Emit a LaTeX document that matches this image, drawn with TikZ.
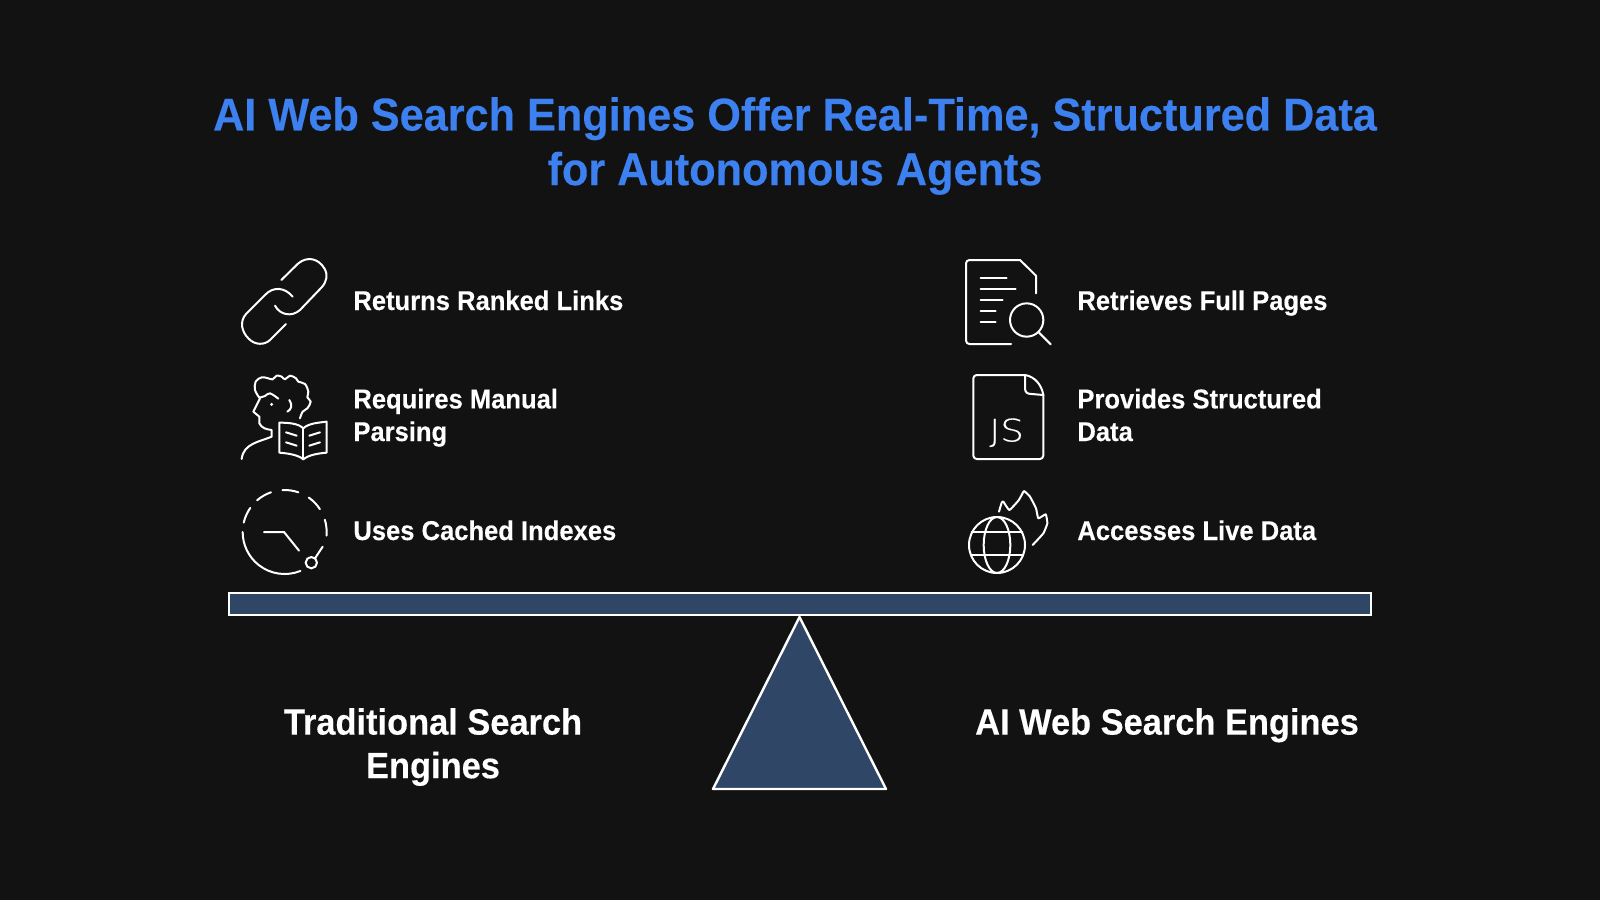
\documentclass[tikz,border=0pt]{standalone}
\usepackage{fontspec}
\setmainfont{Liberation Sans}[FakeStretch=0.94, BoldFeatures={FakeBold=0.25}]
\newfontfamily\jsfont{DejaVu Sans ExtraLight}[FakeBold=0.4, FakeStretch=1.2]
\usepackage{tikz}

\definecolor{bgdark}{HTML}{121212}
\definecolor{titleblue}{HTML}{3D80F0}
\definecolor{beamblue}{HTML}{2F4666}

\tikzset{
	icon/.style={draw=white, line width=1pt, line cap=round, line join=round},
	titletext/.style={text=titleblue, font=\fontsize{23}{27.3}\selectfont\bfseries, align=center},
	itemtext/.style={text=white, anchor=base west, inner sep=0pt, font=\fontsize{13.6}{16.3}\selectfont\bfseries, align=left},
	sidetext/.style={text=white, font=\fontsize{18.3}{21.8}\selectfont\bfseries, align=center}
}

\begin{document}
\begin{tikzpicture}[x=0.5pt, y=-0.5pt]
	\fill[bgdark] (0,0) rectangle (1600,900);
	\useasboundingbox (0,0) rectangle (1600,900);

	\node[titletext] (title) at (795,146) {AI Web Search Engines Offer Real-Time, Structured Data\\for Autonomous Agents};

	\node[itemtext] (links) at (353,310) {Returns Ranked Links};
	\node[itemtext] (parsing) at (353,441) {Requires Manual\\Parsing};
	\node[itemtext] (cached) at (353,540) {Uses Cached Indexes};
	\node[itemtext] (pages) at (1077,310) {Retrieves Full Pages};
	\node[itemtext] (structured) at (1077,441) {Provides Structured\\Data};
	\node[itemtext] (live) at (1077,540) {Accesses Live Data};

	\node[sidetext] (traditional) at (433,747) {Traditional Search\\Engines};
	\node[sidetext, anchor=north] (engines) at (1167,701) {AI Web Search Engines};

	\node[draw=white, fill=beamblue, line width=1pt, inner sep=0pt, minimum width=571pt, minimum height=11pt] (beam) at (799.5,603.5) {};
	\draw[draw=white, fill=beamblue, line width=1.2pt, line join=round] (799.5,617) -- (886,789) -- (713,789) -- cycle;

	% link
	\begin{scope}[shift={(220,240)}, scale=1/3, icon]
		\draw (184,120) -- (235,70) .. controls (262,48) and (295,55) .. (313,85) .. controls (325,105) and (320,125) .. (305,142) -- (240,210) .. controls (215,232) and (180,225) .. (165,197);
		\draw (218,170) .. controls (195,142) and (160,138) .. (135,165) -- (78,222) .. controls (58,245) and (65,275) .. (85,295) .. controls (105,317) and (135,315) .. (150,300) -- (198,252);
	\end{scope}

	% reader
	\begin{scope}[shift={(220,360)}, scale=1/3, icon]
		\draw plot[smooth, tension=0.6] coordinates {(118,113) (105,90) (107,65) (125,52) (145,55) (158,58) (170,47) (185,50) (195,58) (210,47) (228,55) (235,65) (255,72) (265,95) (262,112) (272,125) (262,145) (248,155) (240,175)};
		\draw plot[smooth, tension=0.6] coordinates {(118,113) (135,108) (150,100) (175,116)};
		\draw (120,115) -- (100,155) -- (118,170) -- (118,190) .. controls (125,205) and (140,208) .. (155,210) -- (155,230) .. controls (120,245) and (70,250) .. (65,297);
		\draw (208,120) .. controls (218,135) and (215,148) .. (202,155);
		\fill[white] (155,133) circle (5);
		\draw (178,188) .. controls (205,188) and (235,190) .. (250,205) .. controls (265,190) and (295,188) .. (320,185) -- (320,278) .. controls (295,280) and (265,285) .. (250,298) .. controls (235,285) and (205,280) .. (178,278) -- cycle;
		\draw (250,205) -- (250,298);
		\foreach \ypos in {217,247} {
			\draw (198,\ypos) -- (230,\ypos+10);
			\draw (300,\ypos) -- (268,\ypos+10);
		}
	\end{scope}

	% clock
	\begin{scope}[shift={(220,480)}, scale=1/3, icon]
		\foreach \sa/\ea in {68/180,193/215,229/251,267/289,305/327,343/365} {
			\draw ([shift={(194,156)}] \sa:126) arc[start angle=\sa, end angle=\ea, radius=126];
		}
		\draw (132,156) -- (192,156) -- (237,212);
		\draw (274,248) circle (17);
		\draw (308,200) -- (285,235);
	\end{scope}

	% document
	\begin{scope}[shift={(950,250)}, scale=1/3, icon]
		\draw[rounded corners=1.7pt] (183,282) -- (48,282) -- (48,30) -- (210,30);
		\draw (210,30) -- (258,77) -- (258,130);
		\foreach \ypos/\xend in {84/170,116/197,150/158,183/137,215/137} {
			\draw (92,\ypos) -- (\xend,\ypos);
		}
		\draw (230,210) circle (50);
		\draw (267,248) -- (302,283);
	\end{scope}

	% js file
	\begin{scope}[shift={(950,365)}, scale=1/3, icon]
		\draw[rounded corners=1.7pt] (225,30) -- (70,30) -- (70,282) -- (280,282) -- (280,90);
		\draw (225,30) .. controls (255,35) and (275,60) .. (280,90);
		\draw (225,30) -- (225,70) .. controls (225,82) and (232,87) .. (245,87) -- (280,90);
		\node[text=white, draw=none, font=\fontsize{15.5}{15.5}\selectfont\jsfont] (js) at (170,203) {JS};
	\end{scope}

	% globe
	\begin{scope}[shift={(950,480)}, scale=1/3, icon]
		\draw (141,195) circle (84);
		\draw (141,195) ellipse (40 and 84);
		\draw (65,157) -- (217,157);
		\draw (65,225) -- (217,225);
		\draw plot[smooth, tension=0.25] coordinates {(147,95) (155,68) (160,65) (178,90) (205,62) (215,45) (222,33) (240,50) (258,85) (265,115) (287,103) (292,130) (280,160) (248,195)};
	\end{scope}
\end{tikzpicture}
\end{document}
